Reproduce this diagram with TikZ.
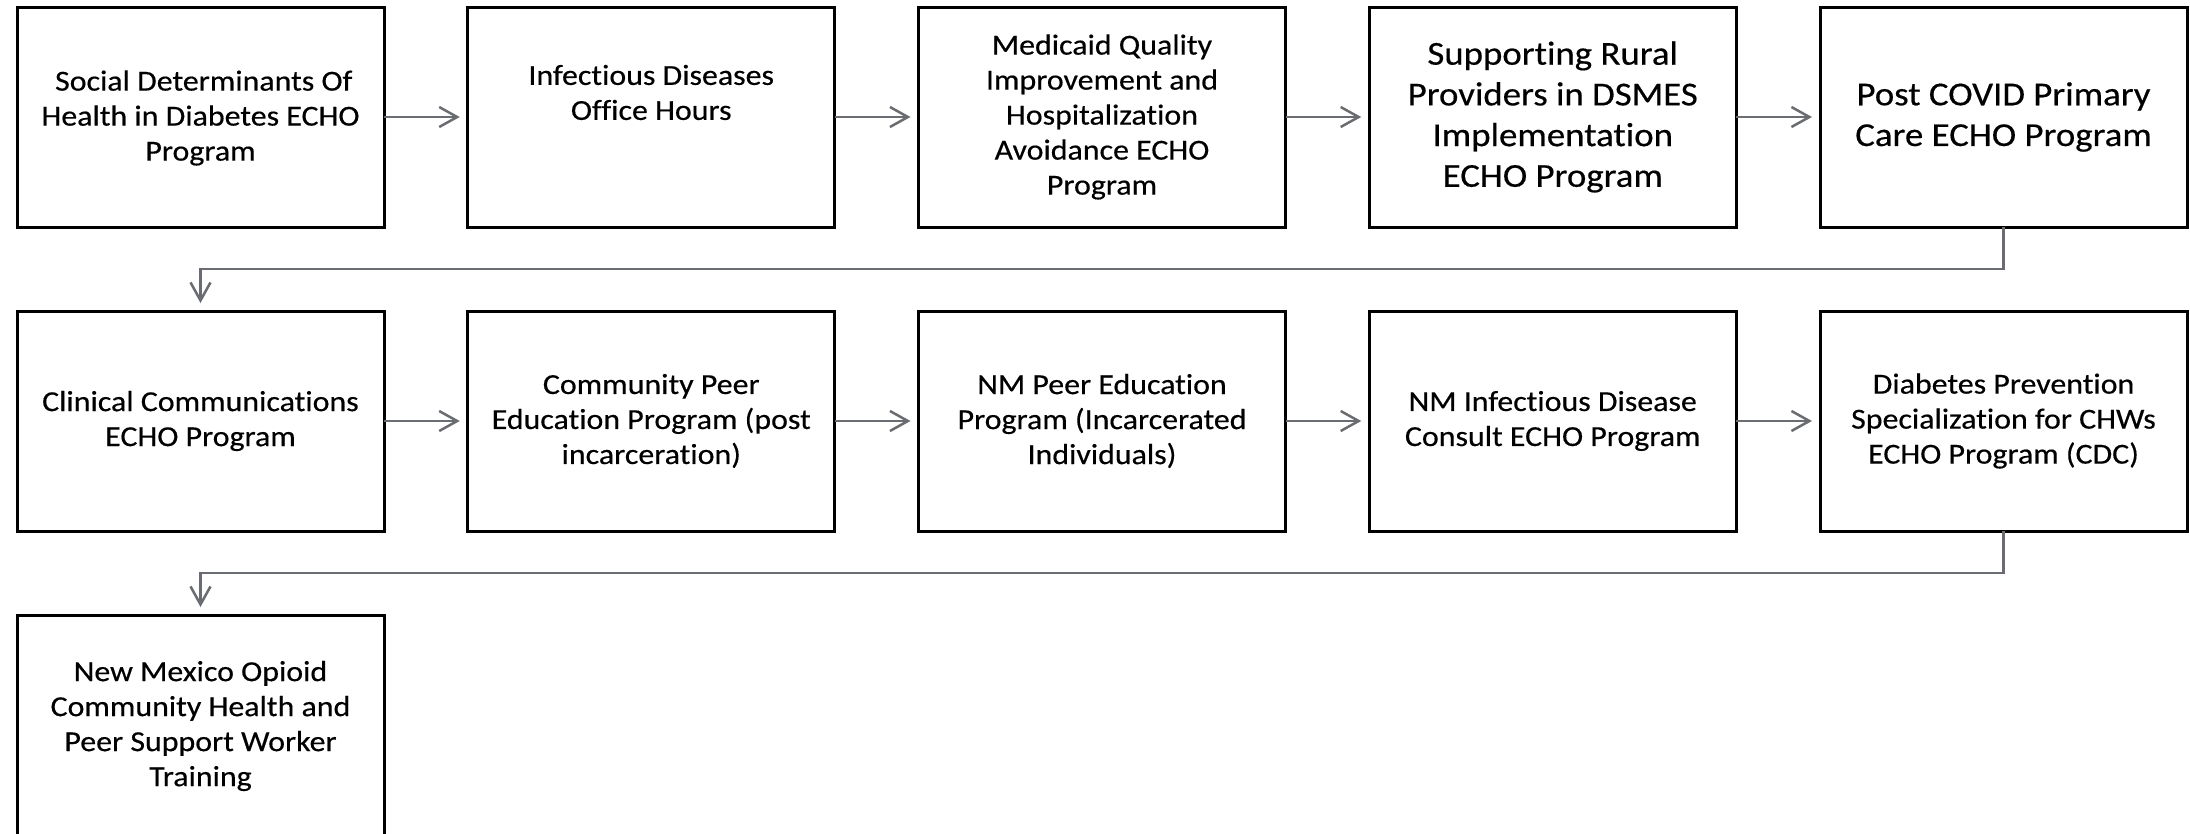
\documentclass[tikz,border=0pt]{standalone}
\usepackage{fontspec}
\setmainfont{Carlito}[FakeStretch=1.1, FakeBold=0.4, Ligatures=NoCommon]
\usetikzlibrary{arrows.meta}
\definecolor{arrgray}{RGB}{105,108,112}
\tikzset{
  box/.style={draw=black, line width=3pt, fill=white, minimum width=367pt, minimum height=220pt, inner sep=0pt, outer sep=0pt, anchor=north west},
  sm/.style={align=center, font=\fontsize{29}{35}\selectfont, inner sep=0pt},
  bg/.style={align=center, font=\fontsize{33.5}{40.7}\selectfont, inner sep=0pt},
  arr/.style={draw=arrgray, line width=2.5pt, -{Straight Barb[length=18pt, width=20pt, line width=2.5pt]}},
}
\begin{document}
\begin{tikzpicture}[x=1pt, y=-1pt]
\useasboundingbox (0,0) rectangle (2190,833);
\fill[white] (0,0) rectangle (2190,833);
% row 1
\node[box] (b1) at (17,7) {};
\node[box] (b2) at (467.75,7) {};
\node[box] (b3) at (918.5,7) {};
\node[box] (b4) at (1369.25,7) {};
\node[box] (b5) at (1820,7) {};
% row 2
\node[box] (b6) at (17,311) {};
\node[box] (b7) at (467.75,311) {};
\node[box] (b8) at (918.5,311) {};
\node[box] (b9) at (1369.25,311) {};
\node[box] (b10) at (1820,311) {};
% row 3
\node[box] (b11) at (17,615) {};
% texts
\node[sm] (t1) at ([yshift=-1pt]b1.center) {\hspace*{6.5pt}Social Determinants Of\\Health in Diabetes ECHO\\Program};
\node[sm] (t2) at ([yshift=24.5pt]b2.center) {Infectious Diseases\\Office Hours};
\node[sm] (t3) at (b3.center) {Medicaid Quality\\Improvement and\\Hospitalization\\Avoidance ECHO\\Program};
\node[bg] (t4) at (b4.center) {Supporting Rural\\Providers in DSMES\\Implementation\\ECHO Program};
\node[bg] (t5) at (b5.center) {Post COVID Primary\\Care ECHO Program};
\node[sm] (t6) at (b6.center) {Clinical Communications\\ECHO Program};
\node[sm] (t7) at (b7.center) {Community Peer\\Education Program (post\\incarceration)};
\node[sm] (t8) at (b8.center) {NM Peer Education\\Program (Incarcerated\\Individuals)};
\node[sm] (t9) at (b9.center) {NM Infectious Disease\\Consult ECHO Program};
\node[sm] (t10) at (b10.center) {Diabetes Prevention\\Specialization for CHWs\\ECHO Program (CDC)};
\node[sm] (t11) at ([yshift=-1pt]b11.center) {New Mexico Opioid\\Community Health and\\Peer Support Worker\\Training};
% connectors
\draw[arr] (b1.east) -- ([xshift=-8pt]b2.west);
\draw[arr] (b2.east) -- ([xshift=-8pt]b3.west);
\draw[arr] (b3.east) -- ([xshift=-8pt]b4.west);
\draw[arr] (b4.east) -- ([xshift=-8pt]b5.west);
\draw[arr] (b6.east) -- ([xshift=-8pt]b7.west);
\draw[arr] (b7.east) -- ([xshift=-8pt]b8.west);
\draw[arr] (b8.east) -- ([xshift=-8pt]b9.west);
\draw[arr] (b9.east) -- ([xshift=-8pt]b10.west);
\coordinate (k1) at ([yshift=-42pt]b5.south);
\coordinate (k2) at ([yshift=-42pt]b10.south);
\draw[arr] (b5.south) -- (k1) -| ([yshift=8pt]b6.north);
\draw[arr] (b10.south) -- (k2) -| ([yshift=8pt]b11.north);
\end{tikzpicture}
\end{document}
